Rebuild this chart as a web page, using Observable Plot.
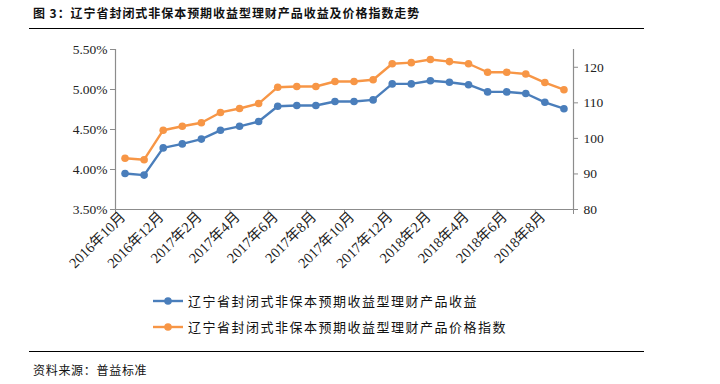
<!DOCTYPE html>
<html><head><meta charset="utf-8">
<script src="https://cdn.jsdelivr.net/npm/d3@7"></script>
<script src="https://cdn.jsdelivr.net/npm/@observablehq/plot@0.6"></script>
<style>
html,body{margin:0;padding:0;background:#fff;}
body{width:720px;height:384px;overflow:hidden;position:relative;font-family:"Noto Sans CJK SC",sans-serif;color:#111;}
#title{position:absolute;left:33px;top:4px;font-size:12px;letter-spacing:0.95px;font-weight:bold;line-height:18px;white-space:nowrap;}
.hr{position:absolute;left:29px;width:615px;height:0;border-top:1.5px solid #000;}
#chart{position:absolute;left:0;top:0;}
#legend{position:absolute;left:153px;top:288px;font-size:13px;letter-spacing:1.5px;line-height:26px;}
#legend .row{display:flex;align-items:center;height:26px;white-space:nowrap;}
#legend svg{margin-right:4px;}
#source{position:absolute;left:33px;top:361px;font-size:12px;letter-spacing:0.7px;line-height:18px;white-space:nowrap;}
</style></head>
<body>
<div id="title">图 3：辽宁省封闭式非保本预期收益型理财产品收益及价格指数走势</div>
<div class="hr" style="top:28px"></div>
<div id="chart"></div>
<div id="legend"></div>
<div class="hr" style="top:351px"></div>
<div id="source">资料来源：普益标准</div>
<script>
const months = ["2016年10月","2016年11月","2016年12月","2017年1月","2017年2月","2017年3月","2017年4月","2017年5月","2017年6月","2017年7月","2017年8月","2017年9月","2017年10月","2017年11月","2017年12月","2018年1月","2018年2月","2018年3月","2018年4月","2018年5月","2018年6月","2018年7月","2018年8月","2018年9月"];
const yieldPct = [3.95,3.93,4.27,4.32,4.38,4.49,4.54,4.60,4.79,4.80,4.80,4.85,4.85,4.87,5.07,5.07,5.11,5.09,5.06,4.97,4.97,4.95,4.84,4.76];
const priceIdx = [94.4,94.0,102.3,103.4,104.4,107.3,108.4,109.8,114.4,114.6,114.6,116.0,116.0,116.5,121.0,121.3,122.2,121.6,121.0,118.6,118.6,118.1,115.7,113.7];
const leftTicks = [3.5,4.0,4.5,5.0,5.5];
const rightTicks = [80,90,100,110,120];
const seriesNames = ["辽宁省封闭式非保本预期收益型理财产品收益","辽宁省封闭式非保本预期收益型理财产品价格指数"];
const colors = ["#4a7ebb","#f79646"];

const yDom = [3.5, 5.5], rDom = [80, 125];
const toLeft = v => yDom[0] + (v - rDom[0]) / (rDom[1] - rDom[0]) * (yDom[1] - yDom[0]);
const idx = d3.range(months.length);
const xDom = [-0.5, months.length - 0.5];
const labelIdx = d3.range(0, months.length, 2);
const boundaries = d3.range(xDom[0], xDom[1] + 0.01, 2);

const chart = Plot.plot({
  width: 720, height: 280,
  marginLeft: 115, marginRight: 147, marginTop: 49, marginBottom: 71,
  style: {fontFamily: "'Liberation Serif','Noto Sans CJK SC',serif", fontSize: "13.5px", background: "transparent"},
  x: {type: "linear", domain: xDom, axis: null},
  y: {domain: yDom, axis: null},
  marks: [
    Plot.ruleY([yDom[0]], {stroke: "#8c8c8c", strokeWidth: 1.2}),
    Plot.ruleX([xDom[0]], {stroke: "#8c8c8c", strokeWidth: 1.2}),
    Plot.ruleX([xDom[1]], {stroke: "#8c8c8c", strokeWidth: 1.2}),
    Plot.axisY(leftTicks, {anchor: "left", tickSize: 5, tickPadding: 3, stroke: "#8c8c8c", color: "#222", tickFormat: d => d.toFixed(2) + "%"}),
    Plot.axisY(rightTicks.map(toLeft), {anchor: "right", tickSize: 4, tickPadding: 6, stroke: "#8c8c8c", color: "#222", tickFormat: (d, i) => String(rightTicks[i])}),
    Plot.axisX(boundaries, {anchor: "bottom", tickSize: 5, stroke: "#8c8c8c", tickFormat: () => ""}),
    Plot.axisX(labelIdx, {anchor: "bottom", tickSize: 0, tickPadding: 5, tickRotate: -45, fontSize: 14.5, dx: -2, color: "#222", tickFormat: i => months[i]}),
    Plot.line(idx, {x: i => i, y: i => yieldPct[i], stroke: colors[0], strokeWidth: 2.4}),
    Plot.dot(idx, {x: i => i, y: i => yieldPct[i], r: 3.8, fill: colors[0], stroke: null}),
    Plot.line(idx, {x: i => i, y: i => toLeft(priceIdx[i]), stroke: colors[1], strokeWidth: 2.4}),
    Plot.dot(idx, {x: i => i, y: i => toLeft(priceIdx[i]), r: 3.8, fill: colors[1], stroke: null})
  ]
});
document.getElementById("chart").appendChild(chart);

const legend = document.getElementById("legend");
seriesNames.forEach((name, k) => {
  const row = document.createElement("div");
  row.className = "row";
  row.innerHTML = `<svg width="31" height="10"><line x1="0" y1="5" x2="30" y2="5" stroke="${colors[k]}" stroke-width="2.4"/><circle cx="15" cy="5" r="3.8" fill="${colors[k]}"/></svg><span>${name}</span>`;
  legend.appendChild(row);
});
</script>
</body></html>
